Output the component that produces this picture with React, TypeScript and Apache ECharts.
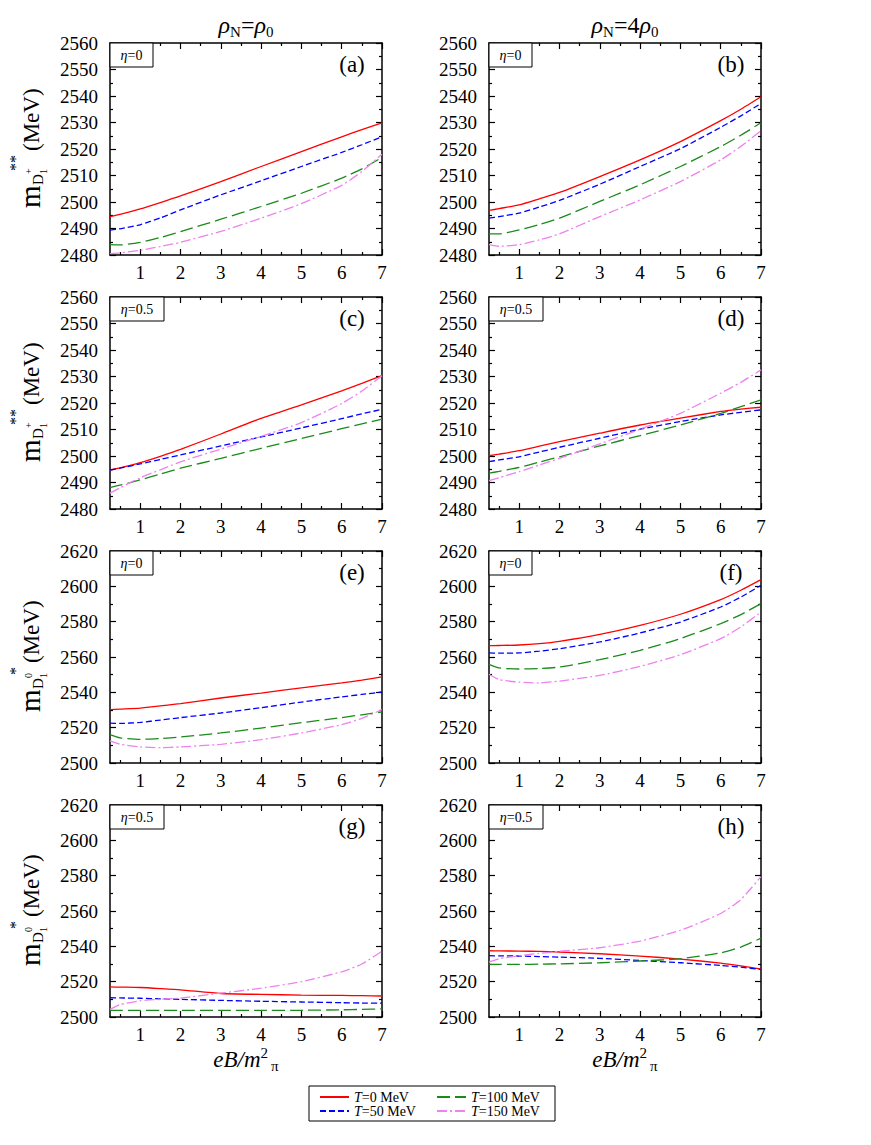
import React, { useEffect, useRef } from "react";
import * as echarts from "echarts";

const FONT = "'Liberation Serif', 'Times New Roman', serif";

// x sample points (eB / m_pi^2)
const X = [0.25, 0.5, 1, 1.5, 2, 3, 4, 5, 6, 6.5, 7];
const xTickValues = [1, 2, 3, 4, 5, 6, 7];
const xMinorValues = [0.5, 1.5, 2.5, 3.5, 4.5, 5.5, 6.5];

const seriesNames = ["T=0 MeV", "T=50 MeV", "T=100 MeV", "T=150 MeV"];
const seriesColors = ["#ff0000", "#0000ff", "#1a8a1a", "#ee82ee"];
const seriesDash: any[] = ["solid", [6, 3], [13, 5], [10, 3, 2, 3]];

// Panel (a): rho_N = rho_0, eta = 0, D1+**
const aT0 = [2494.5, 2495.3, 2497.4, 2499.8, 2502.3, 2507.7, 2513.4, 2519.0, 2524.6, 2527.3, 2529.9];
const aT50 = [2489.4, 2489.9, 2491.4, 2494.0, 2497.0, 2502.7, 2508.0, 2513.4, 2518.7, 2521.6, 2524.6];
const aT100 = [2483.9, 2483.8, 2484.8, 2486.6, 2488.8, 2493.5, 2498.3, 2503.3, 2509.0, 2512.5, 2516.8];
const aT150 = [2480.5, 2480.8, 2481.8, 2483.2, 2484.8, 2488.9, 2493.9, 2499.4, 2506.3, 2511.5, 2518.0];

// Panel (b): rho_N = 4 rho_0, eta = 0, D1+**
const bT0 = [2496.8, 2497.5, 2498.9, 2501.2, 2503.6, 2509.6, 2515.9, 2522.8, 2530.7, 2535.0, 2539.7];
const bT50 = [2493.9, 2494.5, 2495.8, 2498.1, 2500.6, 2506.7, 2513.4, 2520.1, 2528.2, 2532.5, 2537.2];
const bT100 = [2488.0, 2488.0, 2489.5, 2491.5, 2493.9, 2500.2, 2506.5, 2513.4, 2520.9, 2525.2, 2529.9];
const bT150 = [2483.9, 2483.3, 2483.9, 2485.7, 2488.0, 2494.5, 2500.8, 2507.7, 2515.9, 2521.0, 2526.9];

// Panel (c): rho_N = rho_0, eta = 0.5, D1+**
const cT0 = [2494.7, 2495.5, 2497.5, 2499.9, 2502.5, 2508.3, 2514.2, 2519.3, 2524.6, 2527.4, 2530.3];
const cT50 = [2494.7, 2495.4, 2497.0, 2498.7, 2500.4, 2503.8, 2507.2, 2510.6, 2514.1, 2515.9, 2517.6];
const cT100 = [2488.1, 2489.0, 2491.0, 2493.2, 2495.4, 2499.1, 2502.9, 2506.6, 2510.3, 2512.1, 2513.9];
const cT150 = [2486.0, 2488.0, 2491.8, 2494.8, 2497.8, 2502.6, 2507.4, 2512.6, 2519.8, 2524.5, 2530.3];

// Panel (d): rho_N = 4 rho_0, eta = 0.5, D1+**
const dT0 = [2500.1, 2500.7, 2502.0, 2503.7, 2505.4, 2508.6, 2511.7, 2514.3, 2516.8, 2517.7, 2518.4];
const dT50 = [2497.9, 2498.5, 2499.7, 2501.5, 2503.3, 2506.7, 2510.1, 2513.0, 2515.5, 2516.5, 2517.4];
const dT100 = [2493.5, 2494.2, 2495.7, 2497.7, 2499.7, 2503.8, 2507.7, 2511.7, 2516.1, 2518.6, 2521.2];
const dT150 = [2490.7, 2491.8, 2494.1, 2496.6, 2499.1, 2504.6, 2510.1, 2516.1, 2523.7, 2527.8, 2532.5];

// Panel (e): rho_N = rho_0, eta = 0, D1 0*
const eT0 = [2530.2, 2530.5, 2531.1, 2532.3, 2533.6, 2536.8, 2539.6, 2542.5, 2545.3, 2546.9, 2548.7];
const eT50 = [2522.6, 2522.4, 2523.0, 2524.3, 2525.7, 2528.3, 2531.3, 2534.5, 2537.4, 2538.8, 2540.2];
const eT100 = [2516.0, 2514.2, 2513.4, 2513.8, 2514.7, 2517.0, 2519.8, 2522.8, 2525.7, 2527.3, 2528.9];
const eT150 = [2512.5, 2510.6, 2509.1, 2508.7, 2509.1, 2510.6, 2513.2, 2517.0, 2521.7, 2525.3, 2530.2];

// Panel (f): rho_N = 4 rho_0, eta = 0, D1 0*
const fT0 = [2566.4, 2566.5, 2566.8, 2567.6, 2568.9, 2572.8, 2577.9, 2584.2, 2592.5, 2597.8, 2603.8];
const fT50 = [2562.3, 2562.2, 2562.3, 2563.3, 2564.7, 2568.5, 2573.6, 2579.8, 2588.3, 2593.9, 2600.6];
const fT100 = [2555.8, 2553.8, 2553.2, 2553.5, 2554.3, 2558.5, 2563.8, 2570.4, 2578.9, 2584.0, 2590.2];
const fT150 = [2550.2, 2547.2, 2545.8, 2545.3, 2546.4, 2549.6, 2554.7, 2561.3, 2570.4, 2577.0, 2585.5];

// Panel (g): rho_N = rho_0, eta = 0.5, D1 0*
const gT0 = [2517.0, 2516.9, 2516.7, 2516.1, 2515.4, 2513.3, 2512.8, 2512.4, 2512.2, 2512.1, 2511.9];
const gT50 = [2510.9, 2510.8, 2510.6, 2510.3, 2510.0, 2509.4, 2508.9, 2508.5, 2508.1, 2507.9, 2507.8];
const gT100 = [2503.7, 2503.7, 2503.7, 2503.7, 2503.7, 2503.7, 2503.7, 2503.8, 2504.1, 2504.3, 2504.6];
const gT150 = [2504.3, 2507.0, 2509.2, 2510.0, 2510.7, 2513.5, 2516.3, 2520.0, 2525.6, 2530.0, 2537.2];

// Panel (h): rho_N = 4 rho_0, eta = 0.5, D1 0*
const hT0 = [2537.5, 2537.4, 2537.3, 2537.1, 2536.8, 2535.8, 2534.5, 2532.8, 2530.5, 2528.9, 2527.1];
const hT50 = [2534.7, 2534.6, 2534.5, 2534.2, 2533.9, 2533.2, 2532.0, 2530.7, 2529.2, 2528.2, 2526.9];
const hT100 = [2529.8, 2529.8, 2529.8, 2529.9, 2530.1, 2530.7, 2531.7, 2533.0, 2536.3, 2539.6, 2544.6];
const hT150 = [2531.1, 2533.0, 2534.7, 2536.0, 2537.2, 2539.2, 2543.0, 2549.1, 2558.6, 2566.5, 2579.5];

const yRangeTop = [2480, 2560, 10];
const yRangeBottom = [2500, 2620, 20];

const panels = [
  { tag: "(a)", eta: "0", col: 0, row: 0, values: [aT0, aT50, aT100, aT150], range: yRangeTop },
  { tag: "(b)", eta: "0", col: 1, row: 0, values: [bT0, bT50, bT100, bT150], range: yRangeTop },
  { tag: "(c)", eta: "0.5", col: 0, row: 1, values: [cT0, cT50, cT100, cT150], range: yRangeTop },
  { tag: "(d)", eta: "0.5", col: 1, row: 1, values: [dT0, dT50, dT100, dT150], range: yRangeTop },
  { tag: "(e)", eta: "0", col: 0, row: 2, values: [eT0, eT50, eT100, eT150], range: yRangeBottom },
  { tag: "(f)", eta: "0", col: 1, row: 2, values: [fT0, fT50, fT100, fT150], range: yRangeBottom },
  { tag: "(g)", eta: "0.5", col: 0, row: 3, values: [gT0, gT50, gT100, gT150], range: yRangeBottom },
  { tag: "(h)", eta: "0.5", col: 1, row: 3, values: [hT0, hT50, hT100, hT150], range: yRangeBottom },
];

const GRID_LEFT = [110, 489];
const GRID_TOP = [43, 297, 551, 805];
const GRID_W = 272;
const GRID_H = 212;

function buildOption() {
  const grid: any[] = [];
  const xAxis: any[] = [];
  const yAxis: any[] = [];
  const series: any[] = [];
  const graphic: any[] = [];

  const lineStyle = { color: "#000", width: 1.5 };
  const tickStyle = { color: "#000", width: 1.2 };
  const plain = (v: number) => String(v);

  panels.forEach((p, i) => {
    const left = GRID_LEFT[p.col];
    const top = GRID_TOP[p.row];
    grid.push({ left, top, width: GRID_W, height: GRID_H, containLabel: false });

    const baseX = { gridIndex: i, type: "value", min: 0.25, max: 7, splitLine: { show: false } };
    // bottom major (with labels)
    xAxis.push({
      ...baseX,
      position: "bottom",
      axisLine: { show: true, onZero: false, lineStyle },
      axisTick: { show: true, inside: true, length: 6, customValues: xTickValues, lineStyle: tickStyle },
      axisLabel: {
        show: true,
        customValues: xTickValues,
        margin: 8,
        fontFamily: FONT,
        fontSize: 19,
        color: "#000",
        formatter: plain,
      },
    });
    // bottom minor
    xAxis.push({
      ...baseX,
      position: "bottom",
      axisLine: { show: false, onZero: false },
      axisTick: { show: true, inside: true, length: 3, customValues: xMinorValues, lineStyle: tickStyle },
      axisLabel: { show: false },
    });
    // top major
    xAxis.push({
      ...baseX,
      position: "top",
      axisLine: { show: true, onZero: false, lineStyle },
      axisTick: { show: true, inside: true, length: 6, customValues: xTickValues, lineStyle: tickStyle },
      axisLabel: { show: false },
    });
    // top minor
    xAxis.push({
      ...baseX,
      position: "top",
      axisLine: { show: false, onZero: false },
      axisTick: { show: true, inside: true, length: 3, customValues: xMinorValues, lineStyle: tickStyle },
      axisLabel: { show: false },
    });

    const [ymin, ymax, ystep] = p.range;
    const baseY = {
      gridIndex: i,
      type: "value",
      min: ymin,
      max: ymax,
      interval: ystep,
      splitLine: { show: false },
      axisLine: { show: true, onZero: false, lineStyle },
      axisTick: { show: true, inside: true, length: 6, lineStyle: tickStyle },
      minorTick: { show: true, splitNumber: 2, length: 3, lineStyle: tickStyle },
    };
    yAxis.push({
      ...baseY,
      position: "left",
      axisLabel: { show: true, margin: 12, fontFamily: FONT, fontSize: 19, color: "#000", formatter: plain },
    });
    yAxis.push({ ...baseY, position: "right", axisLabel: { show: false } });

    p.values.forEach((vals, k) => {
      series.push({
        type: "line",
        name: seriesNames[k],
        xAxisIndex: i * 4,
        yAxisIndex: i * 2,
        data: X.map((x, j) => [x, vals[j]]),
        symbol: "none",
        smooth: 0.2,
        clip: true,
        lineStyle: { color: seriesColors[k], width: 1.3, type: seriesDash[k] },
        itemStyle: { color: seriesColors[k] },
        z: 3,
      });
    });

    // eta box
    const boxW = p.eta === "0" ? 43 : 54;
    graphic.push({
      type: "rect",
      z: 100,
      shape: { x: left, y: top, width: boxW, height: 24 },
      style: { fill: "#fff", stroke: "#000", lineWidth: 1 },
    });
    graphic.push({
      type: "text",
      z: 101,
      x: left + boxW / 2,
      y: top + 12,
      style: {
        text: "{e|η}=" + p.eta,
        fontFamily: FONT,
        fontSize: 14,
        fill: "#000",
        align: "center",
        verticalAlign: "middle",
        rich: { e: { fontFamily: FONT, fontSize: 14, fontStyle: "italic", fill: "#000" } },
      },
    });
    // panel tag
    graphic.push({
      type: "text",
      z: 101,
      x: left + 242,
      y: top + 21,
      style: { text: p.tag, fontFamily: FONT, fontSize: 23, fill: "#000", align: "center", verticalAlign: "middle" },
    });
  });

  // column titles
  const titleRich = {
    g: { fontFamily: FONT, fontSize: 24, fontStyle: "italic", lineHeight: 28, fill: "#000" },
    m: { fontFamily: FONT, fontSize: 24, lineHeight: 28, fill: "#000" },
    s: { fontFamily: FONT, fontSize: 15, lineHeight: 15, verticalAlign: "bottom", fill: "#000" },
  };
  graphic.push({
    type: "text",
    z: 101,
    x: 246,
    y: 25,
    style: { text: "{g|ρ}{s|N}{m|=}{g|ρ}{s|0}", rich: titleRich, align: "center", verticalAlign: "middle" },
  });
  graphic.push({
    type: "text",
    z: 101,
    x: 625,
    y: 25,
    style: { text: "{g|ρ}{s|N}{m|=4}{g|ρ}{s|0}", rich: titleRich, align: "center", verticalAlign: "middle" },
  });

  // x axis names
  const xnRich = {
    i: { fontFamily: FONT, fontSize: 23, fontStyle: "italic", lineHeight: 28, fill: "#000" },
    p: { fontFamily: FONT, fontSize: 15, lineHeight: 15, verticalAlign: "top", fill: "#000" },
    q: { fontFamily: FONT, fontSize: 15, lineHeight: 15, verticalAlign: "bottom", fill: "#000", padding: [0, 0, 0, 3] },
  };
  [246, 625].forEach((cx) => {
    graphic.push({
      type: "text",
      z: 101,
      x: cx,
      y: 1059,
      style: { text: "{i|eB/m}{p|2}{q|π}", rich: xnRich, align: "center", verticalAlign: "middle" },
    });
  });

  // y axis labels (rotated)
  const t = (text: string, x: number, y: number, size: number) => ({
    type: "text",
    x,
    y,
    style: { text, fontFamily: FONT, fontSize: size, fill: "#000", align: "left", verticalAlign: "middle" },
  });
  [0, 1].forEach((row) => {
    const cy = GRID_TOP[row] + GRID_H / 2;
    graphic.push({
      type: "group",
      z: 101,
      x: 30,
      y: cy + 59,
      rotation: Math.PI / 2,
      children: [
        t("m", 0, 0, 29),
        t("D", 23, 8, 15),
        t("+", 34, -2, 10),
        t("1", 34, 13, 10),
        t("**", 37, -15, 16),
        t("(MeV)", 57, 1.5, 23),
      ],
    });
  });
  [2, 3].forEach((row) => {
    const cy = GRID_TOP[row] + GRID_H / 2;
    graphic.push({
      type: "group",
      z: 101,
      x: 30,
      y: cy + 55,
      rotation: Math.PI / 2,
      children: [
        t("m", 0, 0, 29),
        t("D", 23, 8, 15),
        t("0", 34, -2, 10),
        t("1", 34, 13, 10),
        t("*", 37, -15, 16),
        t("(MeV)", 49, 1.5, 23),
      ],
    });
  });

  // legend frame
  graphic.push({
    type: "rect",
    z: 1,
    shape: { x: 309, y: 1086, width: 246, height: 35 },
    style: { fill: "#fff", stroke: "#000", lineWidth: 1 },
  });

  const legendBase = {
    orient: "vertical",
    top: 1090,
    itemWidth: 29,
    itemHeight: 10,
    itemGap: 0,
    padding: 0,
    selectedMode: false,
    z: 10,
    itemStyle: { opacity: 0 },
    formatter: (n: string) => "{i|T}" + n.slice(1),
    textStyle: {
      fontFamily: FONT,
      fontSize: 14,
      lineHeight: 13,
      color: "#000",
      rich: { i: { fontFamily: FONT, fontSize: 14, lineHeight: 13, fontStyle: "italic", color: "#000" } },
    },
  };

  return {
    animation: false,
    backgroundColor: "#fff",
    textStyle: { fontFamily: FONT },
    grid,
    xAxis,
    yAxis,
    series,
    graphic,
    legend: [
      { ...legendBase, left: 319, data: [seriesNames[0], seriesNames[1]] },
      { ...legendBase, left: 436, data: [seriesNames[2], seriesNames[3]] },
    ],
  };
}

export default function App() {
  const ref = useRef<HTMLDivElement>(null);
  useEffect(() => {
    if (!ref.current) return;
    const chart = echarts.init(ref.current, undefined, { renderer: "svg" });
    chart.setOption(buildOption() as any);
    return () => chart.dispose();
  }, []);
  return (
    <div
      ref={ref}
      style={{ position: "absolute", left: 0, top: 0, width: 871, height: 1145, background: "#fff" }}
    />
  );
}
